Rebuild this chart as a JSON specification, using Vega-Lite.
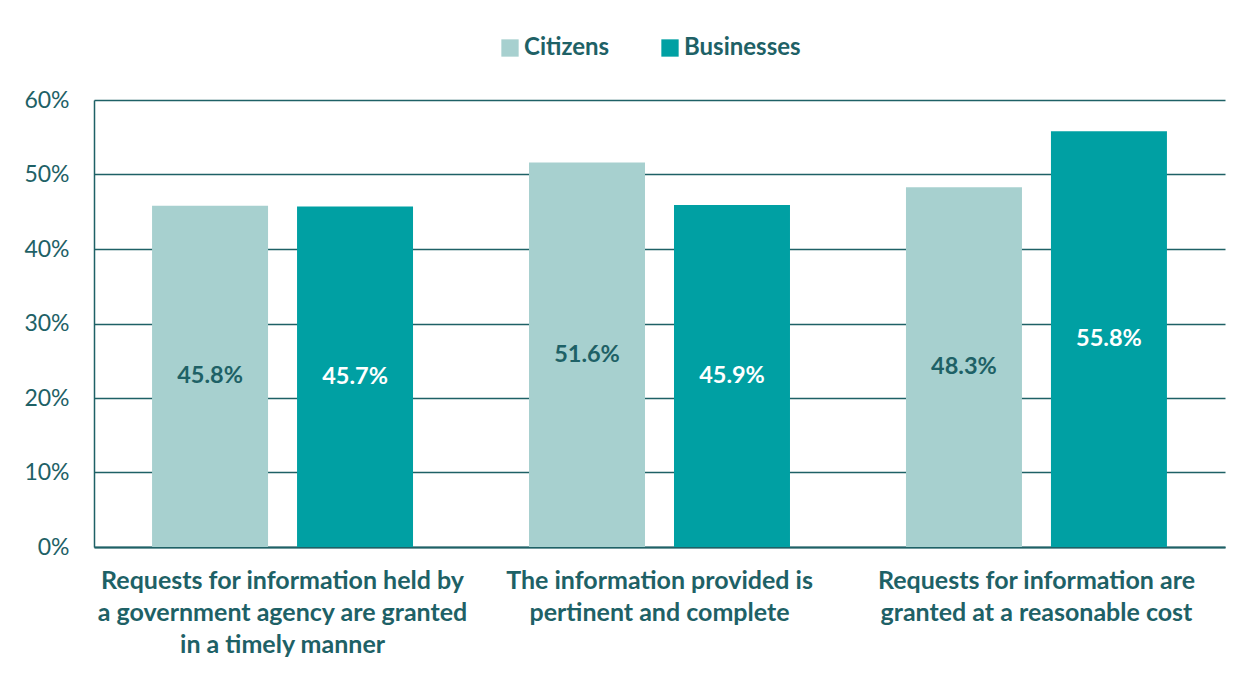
{
  "$schema": "https://vega.github.io/schema/vega-lite/v6.json",
  "autosize": "none",
  "width": 1131,
  "height": 447,
  "padding": {"left": 94, "top": 100, "right": 26, "bottom": 126},
  "background": "white",
  "data": {
    "values": [
      {"statement": "Requests for information held by|a government agency are granted|in a timely manner", "group": "Citizens", "value": 0.458},
      {"statement": "Requests for information held by|a government agency are granted|in a timely manner", "group": "Businesses", "value": 0.457},
      {"statement": "The information provided is|pertinent and complete", "group": "Citizens", "value": 0.516},
      {"statement": "The information provided is|pertinent and complete", "group": "Businesses", "value": 0.459},
      {"statement": "Requests for information are|granted at a reasonable cost", "group": "Citizens", "value": 0.483},
      {"statement": "Requests for information are|granted at a reasonable cost", "group": "Businesses", "value": 0.558}
    ]
  },
  "encoding": {
    "x": {
      "field": "statement",
      "type": "nominal",
      "sort": ["Requests for information held by|a government agency are granted|in a timely manner", "The information provided is|pertinent and complete", "Requests for information are|granted at a reasonable cost"],
      "scale": {"paddingInner": 0.3077, "paddingOuter": 0.154},
      "axis": {
        "title": null,
        "labelAngle": 0,
        "labelExpr": "split(datum.label, '|')",
        "labelFont": "Lato",
        "labelFontSize": 25,
        "labelFontWeight": "bold",
        "labelColor": "#1E6166",
        "labelLineHeight": 32,
        "labelPadding": 21,
        "labelBaseline": "top",
        "labelLimit": 0,
        "labelOverlap": false,
        "ticks": false,
        "domainColor": "#1E6166",
        "domainWidth": 2,
        "grid": false
      }
    },
    "xOffset": {
      "field": "group",
      "type": "nominal",
      "sort": ["Citizens", "Businesses"],
      "scale": {"paddingInner": 0.2, "paddingOuter": 0}
    }
  },
  "layer": [
    {
      "mark": {"type": "bar"},
      "encoding": {
        "y": {
          "field": "value",
          "type": "quantitative",
          "scale": {"domain": [0, 0.6], "nice": false},
          "axis": {
            "title": null,
            "format": ".0%",
            "values": [0, 0.1, 0.2, 0.3, 0.4, 0.5, 0.6],
            "labelOverlap": false,
            "labelFont": "Lato",
            "labelFontSize": 23,
            "labelColor": "#1E6166",
            "labelPadding": 25,
            "ticks": false,
            "domain": true,
            "domainColor": "#1E6166",
            "domainWidth": 1.5,
            "grid": true,
            "gridColor": "#1E6166",
            "gridWidth": 1.5,
            "gridOpacity": 1
          }
        },
        "color": {
          "field": "group",
          "type": "nominal",
          "sort": ["Citizens", "Businesses"],
          "scale": {"domain": ["Citizens", "Businesses"], "range": ["#A7D0CF", "#00A0A3"]},
          "legend": {
            "title": null,
            "orient": "none",
            "legendX": 404,
            "legendY": -64,
            "direction": "horizontal",
            "symbolType": "square",
            "symbolSize": 300,
            "symbolStrokeWidth": 0,
            "labelFont": "Lato",
            "labelFontSize": 24,
            "labelFontWeight": "bold",
            "labelColor": "#1E6166",
            "columnPadding": 48,
            "labelOffset": 2
          }
        }
      }
    },
    {
      "mark": {"type": "text", "font": "Lato", "fontSize": 23.5, "fontWeight": "bold", "baseline": "middle"},
      "encoding": {
        "y": {
          "field": "value",
          "type": "quantitative",
          "scale": {"domain": [0, 1.2], "nice": false},
          "axis": null
        },
        "text": {"field": "value", "type": "quantitative", "format": ".1%"},
        "color": {
          "condition": {"test": "datum.group === 'Businesses'", "value": "#FFFFFF"},
          "value": "#1E6166"
        }
      }
    }
  ],
  "resolve": {"scale": {"y": "independent"}},
  "config": {
    "view": {"stroke": null}
  }
}
